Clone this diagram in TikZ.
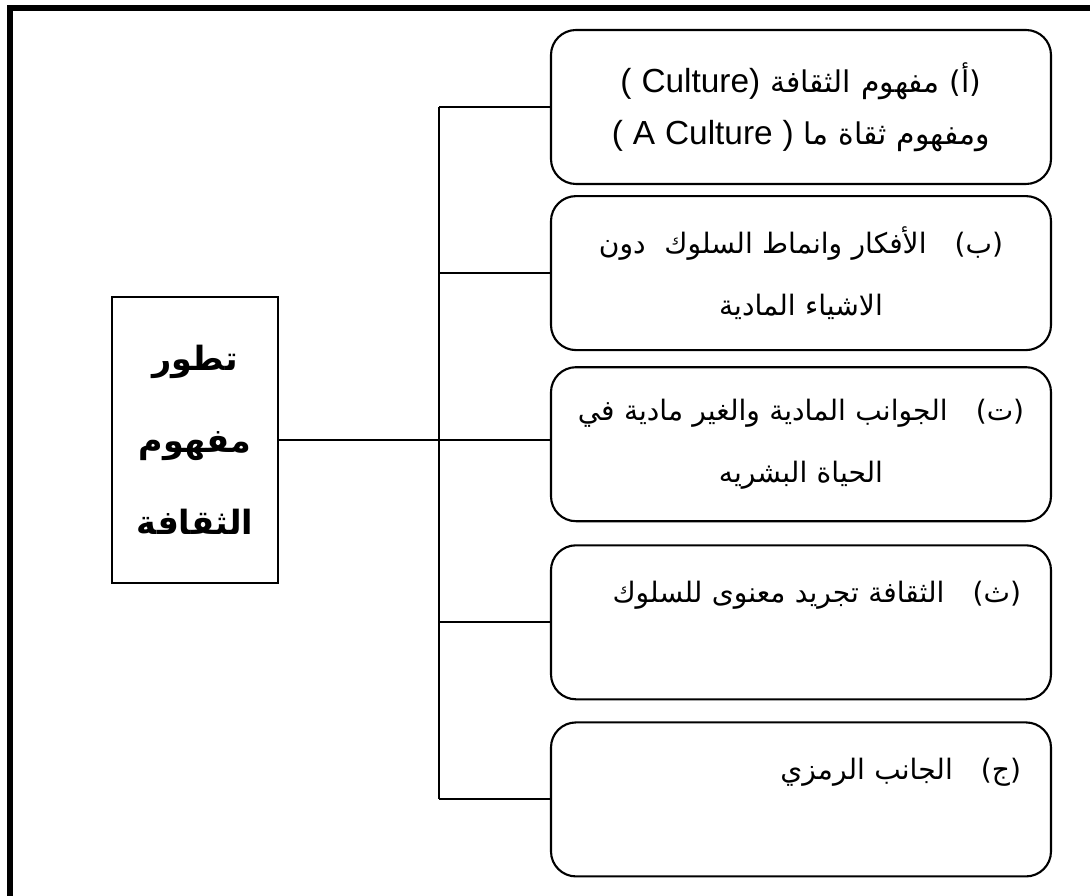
\documentclass[tikz,border=0pt]{standalone}
\usepackage{fontspec}
\setmainfont{Liberation Sans}
\newfontfamily\arabicfont[Script=Arabic]{DejaVu Sans}
\TeXXeTstate=1
\usetikzlibrary{positioning}

\newcommand\ar[1]{{\arabicfont\beginR #1\endR}}

\tikzset{
  leaf/.style={draw,line width=0.6pt,rounded corners=0.25cm,
    minimum width=5cm,minimum height=1.54cm,text width=4.4cm,
    inner sep=0pt,align=center,font=\fontsize{8}{17.6}\selectfont},
  rootbox/.style={draw,line width=0.6pt,minimum width=1.66cm,
    minimum height=2.86cm,inner sep=0pt,align=center,
    font=\arabicfont\bfseries\fontsize{9.5}{23.3}\selectfont},
  link/.style={line width=0.6pt}
}

\begin{document}
\begin{tikzpicture}
  \useasboundingbox (0,0) rectangle (10.9,-8.96);

  % frame
  \draw [line width=0.06cm] (0.10,-8.96) -- (0.10,-0.08) -- (10.9,-0.08);

  % root
  \node [rootbox] (root) at (1.95,-4.40) {\ar{تطور}\\\ar{مفهوم}\\\ar{الثقافة}};

  % leaves
  \node [leaf,text width=4.8cm,font=\fontsize{8.5}{14.8}\selectfont] (boxA) at (8.01,-1.07)
    {{\fontsize{9.5}{14.8}\selectfont( Culture)} \ar{(أ) مفهوم الثقافة}\\
     {\fontsize{9.5}{14.8}\selectfont( A Culture )} \ar{ومفهوم ثقاة ما}};
  \node [leaf,below=0.1cm of boxA] (boxB)
    {\ar{(ب)\quad الأفكار وانماط السلوك\ \ دون}\\\ar{الاشياء المادية}};
  \node [leaf,text width=4.8cm,below=0.15cm of boxB] (boxC)
    {\ar{(ت)\quad الجوانب المادية والغير مادية في}\\\ar{الحياة البشريه}};
  \node [leaf,align=right,below=0.22cm of boxC] (boxD)
    {\ar{(ث)\quad الثقافة تجريد معنوى للسلوك}\\\mbox{}};
  \node [leaf,align=right,below=0.21cm of boxD] (boxE)
    {\ar{(ج)\quad الجانب الرمزي}\\\mbox{}};

  % connectors
  \coordinate (fork) at (4.39,-4.43);
  \draw [link] (root.east) -- (root.east -| boxC.west);
  \draw [link] (fork |- boxA.west) -- (fork |- boxE.west);
  \foreach \b in {boxA,boxB,boxD,boxE}
    \draw [link] (fork |- \b.west) -- (\b.west);

\end{tikzpicture}
\end{document}
